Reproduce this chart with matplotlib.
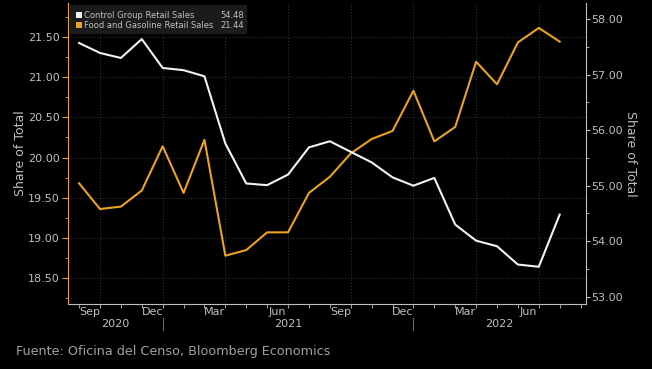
import numpy as np
import matplotlib.pyplot as plt
from matplotlib.patches import Rectangle
import matplotlib.transforms as mtransforms

# monthly readings, Aug 2020 .. Jul 2022
control_group = [57.57, 57.39, 57.30, 57.64, 57.12, 57.08, 56.97, 55.76,
                 55.04, 55.01, 55.20, 55.69, 55.80, 55.61, 55.42, 55.15,
                 55.00, 55.14, 54.30, 54.01, 53.91, 53.58, 53.54, 54.48]
food_gas = [19.68, 19.36, 19.39, 19.59, 20.14, 19.56, 20.22, 18.78,
            18.85, 19.07, 19.07, 19.56, 19.76, 20.05, 20.23, 20.33,
            20.83, 20.20, 20.38, 21.19, 20.91, 21.43, 21.61, 21.44]
month_labels = ['Sep', 'Dec', 'Mar', 'Jun', 'Sep', 'Dec', 'Mar', 'Jun']
year_labels = ['2020', '2021', '2022']

ORANGE = '#eba21f'
WHITE = '#f2f2f2'
GRAY = '#bfbfbf'
BG = '#000000'

plt.rcParams['font.family'] = ['DejaVu Sans']

fig = plt.figure(figsize=(6.52, 3.69), dpi=100, facecolor=BG)
ax = fig.add_axes([0.1043, 0.1762, 0.7945, 0.8157])
ax.set_facecolor(BG)
ax2 = ax.twinx()

x = np.arange(len(food_gas))
ax.plot(x, food_gas, color=ORANGE, lw=1.5, zorder=3)
ax2.plot(x, control_group, color=WHITE, lw=1.5, zorder=3)

ax.set_xlim(-0.53, 24.26)
ax.set_ylim(18.18, 21.92)
ax2.set_ylim(52.87, 58.29)

# left axis (orange)
ax.set_yticks([18.5, 19.0, 19.5, 20.0, 20.5, 21.0, 21.5])
ax.set_yticks(np.arange(18.25, 21.9, 0.25), minor=True)
ax.yaxis.set_major_formatter(plt.FormatStrFormatter('%.2f'))
ax.tick_params(axis='y', which='major', colors=ORANGE, labelcolor=GRAY,
               length=4, labelsize=8, pad=2)
ax.tick_params(axis='y', which='minor', colors=ORANGE, length=2.5)

# right axis (white)
ax2.set_yticks([53, 54, 55, 56, 57, 58])
ax2.set_yticks(np.arange(53.5, 58.1, 0.5), minor=True)
ax2.yaxis.set_major_formatter(plt.FormatStrFormatter('%.2f'))
ax2.tick_params(axis='y', which='major', colors=GRAY, labelcolor=GRAY,
                length=3, labelsize=8, pad=1)
ax2.tick_params(axis='y', which='minor', colors=GRAY, length=2.5)

# x axis: month boundaries as ticks, labels drawn as text
ax.set_xticks([])
ax.set_xticks(np.arange(0, 25), minor=True)
ax.tick_params(axis='x', which='minor', colors=GRAY, length=3)

ax.spines['top'].set_visible(False)
ax2.spines['top'].set_visible(False)
ax.spines['left'].set_color(ORANGE)
ax2.spines['left'].set_visible(False)
ax.spines['right'].set_visible(False)
ax2.spines['right'].set_color(GRAY)
ax.spines['bottom'].set_color(GRAY)
ax2.spines['bottom'].set_visible(False)

# grid
for yv in [18.5, 19.0, 19.5, 20.0, 20.5, 21.0, 21.5]:
    ax.axhline(yv, color='#3a3a3a', lw=0.7, ls=(0, (1, 2)), zorder=1)
for xv in range(1, 24, 3):
    ax.axvline(xv, color='#3a3a3a', lw=0.7, ls=(0, (1, 2)), zorder=1)

trans = mtransforms.blended_transform_factory(ax.transData, ax.transAxes)
for i, lab in enumerate(month_labels):
    ax.text(0.5 + 3 * i, -0.028, lab, transform=trans, ha='center', va='center',
            color=GRAY, fontsize=8)
for pos, lab in zip([1.73, 10.0, 20.13], year_labels):
    ax.text(pos, -0.068, lab, transform=trans, ha='center', va='center',
            color=GRAY, fontsize=8)
for xv in [4, 16]:
    ax.plot([xv, xv], [-0.046, -0.088], transform=trans, color='#666666',
            lw=0.8, clip_on=False)

ax.set_ylabel('Share of Total', color=GRAY, fontsize=9, labelpad=1)
ax2.set_ylabel('Share of Total', color=GRAY, fontsize=9, rotation=270,
               labelpad=10)

# legend box
fig.patches.append(Rectangle((70 / 652, 1 - 34 / 369), 177 / 652, 29 / 369,
                             transform=fig.transFigure, facecolor='#1b1b1b',
                             edgecolor='none', zorder=5))
rows = [('Control Group Retail Sales', f'{control_group[-1]:.2f}', WHITE, 15),
        ('Food and Gasoline Retail Sales', f'{food_gas[-1]:.2f}', ORANGE, 25)]
for name, val, col, yp in rows:
    fig.patches.append(Rectangle((76 / 652, 1 - (yp + 3) / 369), 6 / 652, 6 / 369,
                                 transform=fig.transFigure, facecolor=col,
                                 edgecolor='none', zorder=6))
    fig.text(84 / 652, 1 - yp / 369, name, color=GRAY, fontsize=6.0,
             va='center', ha='left', zorder=7)
    fig.text(244 / 652, 1 - yp / 369, val, color=GRAY, fontsize=6.0,
             va='center', ha='right', zorder=7)

fig.text(16 / 652, 1 - 352 / 369, 'Fuente: Oficina del Censo, Bloomberg Economics',
         color='#a0a0a0', fontsize=9.2, va='center', ha='left')

fig.savefig('out.png', dpi=100, facecolor=BG)
